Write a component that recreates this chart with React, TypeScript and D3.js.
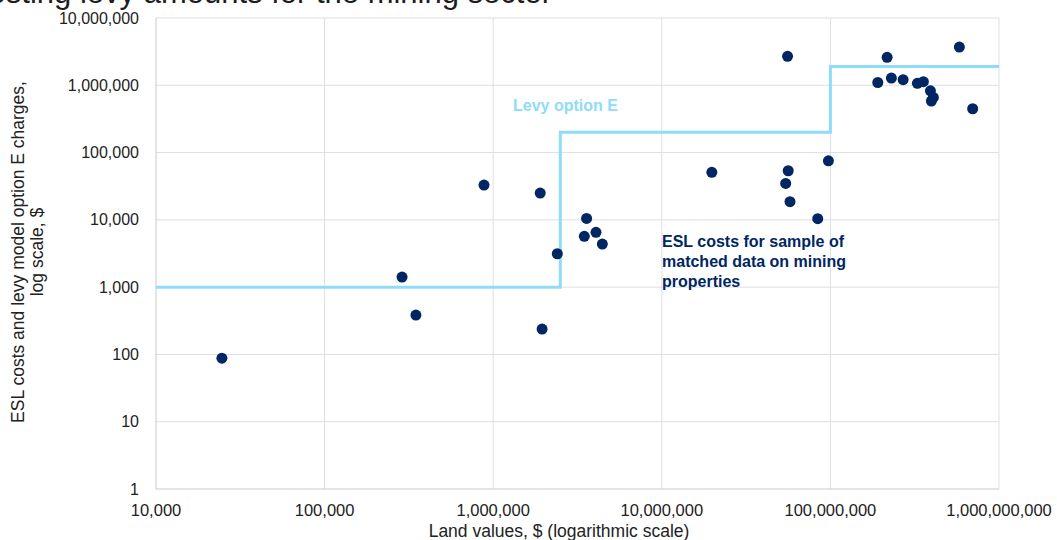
import { useEffect, useRef } from "react";
import * as d3 from "d3";

// ESL costs vs land value (sample of matched mining properties)
const landValues = [
  24600, 288000, 348000, 882000, 1900000, 1950000, 2400000, 3580000, 3470000,
  4070000, 4440000, 19800000, 56200000, 54300000, 57600000, 97300000, 84100000,
  55700000, 217000000, 582000000, 191000000, 230000000, 270000000, 328000000,
  356000000, 392000000, 408000000, 397000000, 698000000,
];
const eslCosts = [
  88, 1410, 385, 32900, 25000, 238, 3135, 10500, 5690, 6520, 4370, 50800,
  53700, 34800, 18600, 75500, 10400, 2690000, 2600000, 3700000, 1100000,
  1280000, 1210000, 1070000, 1130000, 828000, 660000, 582000, 448000,
];

// levy option E step function
const levyBreaks = [10000, 2500000, 100000000, 1000000000];
const levyAmounts = [1000, 200000, 1900000, 1900000];

const xTicks = [1e4, 1e5, 1e6, 1e7, 1e8, 1e9];
const yTicks = [1, 10, 100, 1000, 1e4, 1e5, 1e6, 1e7];

const FONT = "'Liberation Sans', Arial, sans-serif";

export default function App() {
  const svgRef = useRef<SVGSVGElement>(null);

  useEffect(() => {
    document.body.style.margin = "0";
    if (!svgRef.current) return;
    const svg = d3.select(svgRef.current);
    svg.selectAll("*").remove();

    const x = d3.scaleLog().domain([1e4, 1e9]).range([156, 999]);
    const y = d3.scaleLog().domain([1, 1e7]).range([489, 18]);
    const fmt = d3.format(",");

    // title (cut off at top in the original)
    svg
      .append("text")
      .attr("x", 552)
      .attr("y", 3)
      .attr("text-anchor", "end")
      .attr("font-family", FONT)
      .attr("font-size", 31)
      .attr("fill", "#1d1d1d")
      .text("Costing levy amounts for the mining sector");

    // grid
    svg
      .append("g")
      .selectAll("line")
      .data(xTicks.slice(1))
      .join("line")
      .attr("x1", (d) => x(d))
      .attr("x2", (d) => x(d))
      .attr("y1", y(1e7))
      .attr("y2", y(1))
      .attr("stroke", "#dcdfe4")
      .attr("stroke-width", 1);
    svg
      .append("g")
      .selectAll("line")
      .data(yTicks.slice(1))
      .join("line")
      .attr("x1", x(1e4))
      .attr("x2", x(1e9))
      .attr("y1", (d) => y(d))
      .attr("y2", (d) => y(d))
      .attr("stroke", "#dcdfe4")
      .attr("stroke-width", 1);

    // axis lines
    svg
      .append("line")
      .attr("x1", x(1e4))
      .attr("x2", x(1e4))
      .attr("y1", y(1e7))
      .attr("y2", y(1))
      .attr("stroke", "#c3c9d3");
    svg
      .append("line")
      .attr("x1", x(1e4))
      .attr("x2", x(1e9))
      .attr("y1", y(1))
      .attr("y2", y(1))
      .attr("stroke", "#c3c9d3");

    // tick labels
    svg
      .append("g")
      .selectAll("text")
      .data(xTicks)
      .join("text")
      .attr("x", (d) => x(d))
      .attr("y", 516)
      .attr("text-anchor", "middle")
      .attr("font-family", FONT)
      .attr("font-size", 16.5)
      .attr("fill", "#222")
      .text((d) => fmt(d));
    svg
      .append("g")
      .selectAll("text")
      .data(yTicks)
      .join("text")
      .attr("x", 139)
      .attr("y", (d) => y(d))
      .attr("dy", "0.35em")
      .attr("text-anchor", "end")
      .attr("font-family", FONT)
      .attr("font-size", 16)
      .attr("fill", "#222")
      .text((d) => fmt(d));

    // axis titles
    svg
      .append("text")
      .attr("x", 559)
      .attr("y", 537)
      .attr("text-anchor", "middle")
      .attr("font-family", FONT)
      .attr("font-size", 17.5)
      .attr("fill", "#222")
      .text("Land values, $ (logarithmic scale)");
    const yt = svg
      .append("text")
      .attr("transform", "translate(24,252) rotate(-90)")
      .attr("text-anchor", "middle")
      .attr("font-family", FONT)
      .attr("font-size", 17.5)
      .attr("fill", "#222");
    yt.append("tspan")
      .attr("x", 0)
      .attr("y", 0)
      .text("ESL costs and levy model option E charges,");
    yt.append("tspan").attr("x", 0).attr("y", 19).text("log scale, $");

    // levy step line
    const line = d3
      .line<number>()
      .x((d) => x(d))
      .y((_d, i) => y(levyAmounts[i]))
      .curve(d3.curveStepAfter);
    svg
      .append("path")
      .attr("d", line(levyBreaks))
      .attr("fill", "none")
      .attr("stroke", "#8edcf7")
      .attr("stroke-width", 3);

    // points
    svg
      .append("g")
      .selectAll("circle")
      .data(landValues)
      .join("circle")
      .attr("cx", (d) => x(d))
      .attr("cy", (_d, i) => y(eslCosts[i]))
      .attr("r", 5.5)
      .attr("fill", "#002664");

    // annotations
    svg
      .append("text")
      .attr("x", 513)
      .attr("y", 111)
      .attr("font-family", FONT)
      .attr("font-size", 16)
      .attr("font-weight", 600)
      .attr("fill", "#8edcf7")
      .text("Levy option E");
    const ann = svg
      .append("text")
      .attr("font-family", FONT)
      .attr("font-size", 16)
      .attr("font-weight", 600)
      .attr("fill", "#002664");
    ["ESL costs for sample of", "matched data on mining", "properties"].forEach(
      (t, i) => {
        ann
          .append("tspan")
          .attr("x", 662)
          .attr("y", 247 + i * 20)
          .text(t);
      }
    );
  }, []);

  return (
    <svg
      ref={svgRef}
      width={1057}
      height={540}
      style={{ display: "block", background: "#fff" }}
    />
  );
}
